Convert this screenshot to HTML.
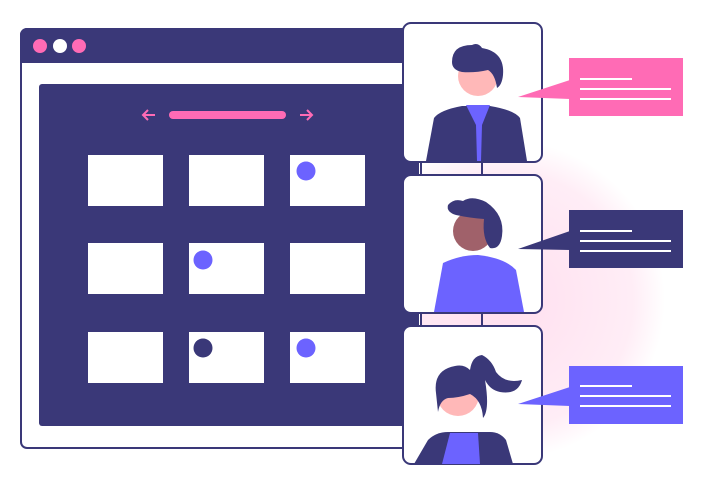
<!DOCTYPE html>
<html><head><meta charset="utf-8"><style>html,body{margin:0;padding:0;background:#fff}svg{display:block}</style></head>
<body>
<svg width="720" height="490" viewBox="0 0 720 490" xmlns="http://www.w3.org/2000/svg">
<defs>
<radialGradient id="g" cx="505" cy="300" r="160" gradientUnits="userSpaceOnUse">
<stop offset="0" stop-color="#ff6bb5" stop-opacity="0.22"/>
<stop offset="0.8" stop-color="#ff6bb5" stop-opacity="0.12"/>
<stop offset="1" stop-color="#ff6bb5" stop-opacity="0"/>
</radialGradient>
</defs>
<circle cx="505" cy="300" r="165" fill="url(#g)"/>
<!-- browser -->
<rect x="21" y="29" width="400" height="419" rx="6" fill="#fff" stroke="#3a3878" stroke-width="2"/>
<path d="M20 35 a7 7 0 0 1 7 -7 H420 V63 H20 Z" fill="#3a3878"/>
<circle cx="40" cy="46" r="7" fill="#ff6bb5"/>
<circle cx="60" cy="46" r="7" fill="#fff"/>
<circle cx="79" cy="46" r="7" fill="#ff6bb5"/>
<rect x="39" y="84" width="380" height="342" rx="3" fill="#3a3878"/>
<rect x="169" y="111" width="117" height="8" rx="4" fill="#ff6bb5"/>
<path d="M155 115 H143 M148 110 L143 115 L148 120" stroke="#ff6bb5" stroke-width="2" fill="none"/>
<path d="M300 115 H312 M307 110 L312 115 L307 120" stroke="#ff6bb5" stroke-width="2" fill="none"/>
<g fill="#fff">
<rect x="88" y="155" width="75" height="51"/><rect x="189" y="155" width="75" height="51"/><rect x="290" y="155" width="75" height="51"/>
<rect x="88" y="243" width="75" height="51"/><rect x="189" y="243" width="75" height="51"/><rect x="290" y="243" width="75" height="51"/>
<rect x="88" y="332" width="75" height="51"/><rect x="189" y="332" width="75" height="51"/><rect x="290" y="332" width="75" height="51"/>
</g>
<circle cx="306" cy="171" r="9.5" fill="#6c63ff"/>
<circle cx="203" cy="260" r="9.5" fill="#6c63ff"/>
<circle cx="203" cy="348" r="9.5" fill="#3a3878"/>
<circle cx="306" cy="348" r="9.5" fill="#6c63ff"/>
<!-- connectors -->
<line x1="482" y1="160" x2="482" y2="176" stroke="#3a3878" stroke-width="2"/>
<line x1="482" y1="311" x2="482" y2="327" stroke="#3a3878" stroke-width="2"/>
<!-- cards -->
<rect x="403" y="23" width="139" height="139" rx="8" fill="#fff" stroke="#3a3878" stroke-width="2"/>
<rect x="403" y="175" width="139" height="138" rx="8" fill="#fff" stroke="#3a3878" stroke-width="2"/>
<rect x="403" y="326" width="139" height="138" rx="8" fill="#fff" stroke="#3a3878" stroke-width="2"/>
<!-- person 1 -->
<path d="M426 161 L434 118 Q440 110 462 106 H490 Q514 110 520 118 L527 161 Z" fill="#3a3878"/>
<path d="M466 105 H490 L482 125 L481 161 H477 L476 125 Z" fill="#6c63ff"/>
<circle cx="478" cy="76" r="20" fill="#ffb8b8"/>
<path d="M452 62 Q452 45 472 45 Q478 42 482 48 Q505 52 503 75 Q502 85 497 88 Q495 74 488 70 Q475 73 462 72 Q452 70 452 62 Z" fill="#3a3878"/>
<!-- person 2 -->
<path d="M434 312 L443 263 Q460 255 478 255 Q505 258 516 270 L524 312 Z" fill="#6c63ff"/>
<circle cx="473" cy="231" r="20" fill="#a0616a"/>
<path d="M448 205 Q454 198 463 201 Q472 195 486 202 Q505 215 502 236 Q500 250 490 248 Q482 238 484 219 Q470 218 456 215 Q446 212 448 205 Z" fill="#3a3878"/>
<!-- person 3 -->
<path d="M414 464 L428 440 Q436 432 448 432 H490 Q500 432 506 440 L513 464 Z" fill="#3a3878"/>
<path d="M450 433 H478 L480 464 H442 Z" fill="#6c63ff"/>
<circle cx="458" cy="395" r="21" fill="#ffb8b8"/>
<path d="M436 393 Q433 370 455 366 Q464 364 470 370 Q472 356 482 355 Q492 360 496 372 Q505 384 522 380 Q518 395 500 392 Q490 390 485 380 Q490 410 483 418 Q482 400 470 394 Q458 398 448 398 Q440 400 438 412 Z" fill="#3a3878"/>
<!-- bubbles -->
<rect x="569" y="58" width="114" height="58" fill="#ff6bb5"/>
<path d="M570 80 L518 97 L570 99 Z" fill="#ff6bb5"/>
<rect x="569" y="210" width="114" height="58" fill="#3a3878"/>
<path d="M570 231 L518 249 L570 250 Z" fill="#3a3878"/>
<rect x="569" y="366" width="114" height="58" fill="#6c63ff"/>
<path d="M570 387 L518 404 L570 406 Z" fill="#6c63ff"/>
<g stroke="#fff" stroke-width="2">
<line x1="580" y1="79" x2="632" y2="79"/><line x1="580" y1="89" x2="671" y2="89"/><line x1="580" y1="99" x2="671" y2="99"/>
<line x1="580" y1="231" x2="632" y2="231"/><line x1="580" y1="241" x2="671" y2="241"/><line x1="580" y1="251" x2="671" y2="251"/>
<line x1="580" y1="386" x2="632" y2="386"/><line x1="580" y1="396" x2="671" y2="396"/><line x1="580" y1="406" x2="671" y2="406"/>
</g>
</svg>
</body></html>
